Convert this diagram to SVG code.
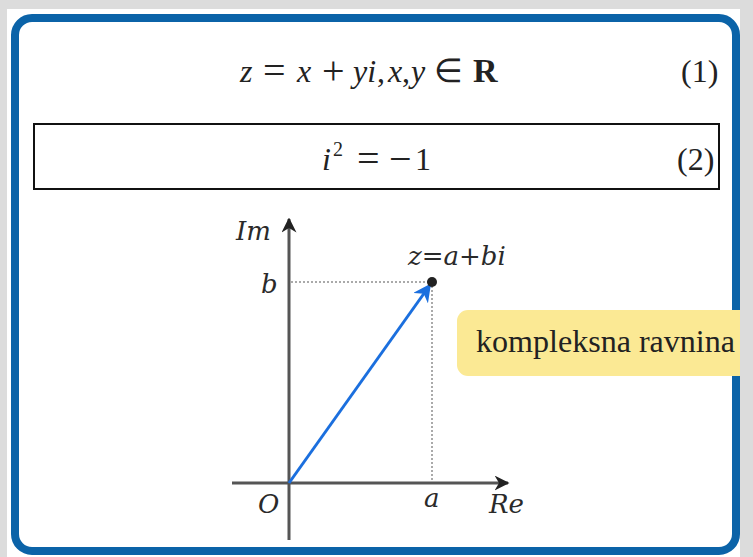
<svg xmlns="http://www.w3.org/2000/svg" width="753" height="557" viewBox="0 0 753 557">
<defs>
<style>
.cm{font-family:'Liberation Serif',serif;font-size:32px;fill:#222}
.op{font-size:40px}
.it{font-style:italic}
.lbl{font-family:'DejaVu Serif',serif;font-style:italic;font-size:26px;fill:#2a2a2a}
.axis{stroke:#555;stroke-width:3;fill:none}
.dot{stroke:#aaa;stroke-width:2;stroke-dasharray:2 2;fill:none}
</style>
<marker id="ah" viewBox="0 0 10 10" refX="9" refY="5" markerWidth="5" markerHeight="5" orient="auto" markerUnits="strokeWidth"><path d="M0,0 L10,5 L0,10 L3,5 z" fill="#222"/></marker>
<marker id="bh" viewBox="0 0 10 10" refX="9" refY="5" markerWidth="6" markerHeight="6" orient="auto" markerUnits="strokeWidth"><path d="M0,0 L10,5 L0,10 L3,5 z" fill="#1b6fde"/></marker>
<clipPath id="pg"><rect x="0" y="0" width="740" height="557"/></clipPath>
</defs>
<rect width="753" height="557" fill="#dcdcdc"/>
<rect x="7" y="9" width="733" height="548" fill="#fff"/>
<g id="frame"><rect x="15" y="18" width="721" height="533" rx="17" fill="none" stroke="#0b63a8" stroke-width="8"/></g>
<g id="eq1">
<text class="cm" y="82"><tspan class="it" x="240">z</tspan><tspan class="op" x="263" y="84">=</tspan><tspan class="it" x="297" y="82">x</tspan><tspan class="op" x="322" y="84">+</tspan><tspan class="it" x="353" y="82">yi</tspan><tspan x="377">,</tspan><tspan class="it" x="388">x</tspan><tspan x="402">,</tspan><tspan class="it" x="411">y</tspan><tspan x="434" font-size="33">∈</tspan><tspan x="473" font-weight="bold" font-size="34">R</tspan></text>
<text class="cm" x="681" y="82" font-size="31">(1)</text>
</g>
<g id="eq2">
<rect x="34" y="124" width="685" height="65" fill="none" stroke="#111" stroke-width="2"/>
<text class="cm" y="170"><tspan class="it" x="322">i</tspan><tspan x="333" y="156" font-size="20">2</tspan><tspan class="op" x="357" y="172">=</tspan><tspan class="op" x="389" y="172">−</tspan><tspan x="415" y="170">1</tspan></text>
<text class="cm" x="677" y="170" font-size="31">(2)</text>
</g>
<g id="plane">
<g id="connectors">
<line class="dot" x1="291" y1="282" x2="432" y2="282"/>
<line class="dot" x1="432" y1="282" x2="432" y2="482"/>
<line class="axis" x1="289" y1="540" x2="289" y2="219" marker-end="url(#ah)"/>
<line class="axis" x1="232" y1="483" x2="508" y2="483" marker-end="url(#ah)"/>
<line x1="289" y1="483" x2="430" y2="285" stroke="#1b6fde" stroke-width="3" marker-end="url(#bh)"/>
</g>
<circle cx="432" cy="282" r="5" fill="#222"/>
<text class="lbl" x="236" y="240">Im</text>
<text class="lbl" x="261" y="293">b</text>
<text class="lbl" x="408" y="265">z=a+bi</text>
<text class="lbl" x="258" y="513">O</text>
<text class="lbl" x="424" y="507">a</text>
<text class="lbl" x="489" y="513">Re</text>
</g>
<g id="note" clip-path="url(#pg)">
<rect x="457" y="310" width="310" height="66" rx="11" fill="#fbe994"/>
<text class="cm" x="476" y="352" font-size="30" textLength="259" lengthAdjust="spacingAndGlyphs">kompleksna ravnina</text>
</g>
</svg>
